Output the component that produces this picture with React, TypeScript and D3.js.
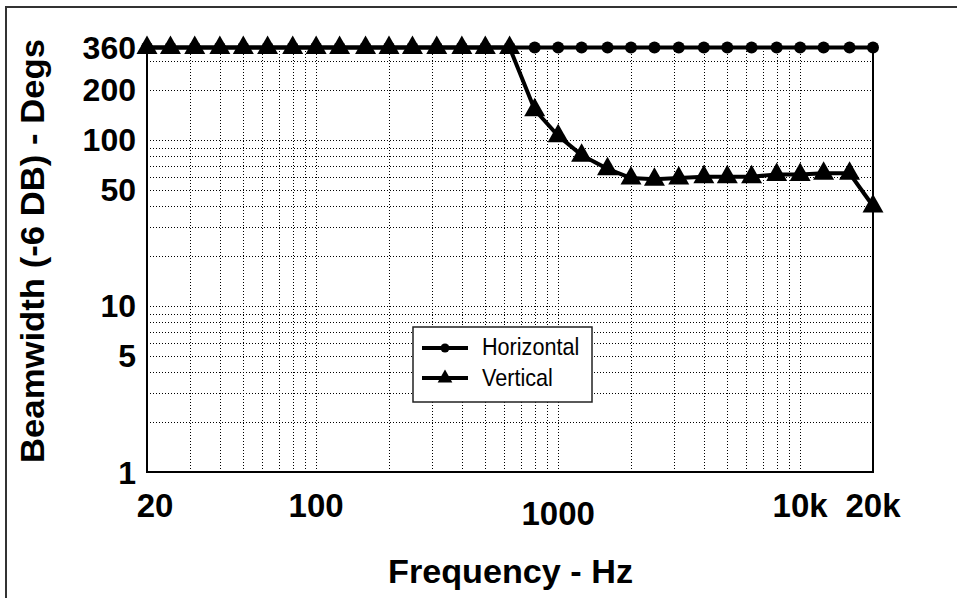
import React from "react";
import * as d3 from "d3";

const freqs = [20, 25, 31.5, 40, 50, 63, 80, 100, 125, 160, 200, 250, 315, 400, 500, 630, 800, 1000, 1250, 1600, 2000, 2500, 3150, 4000, 5000, 6300, 8000, 10000, 12500, 16000, 20000];
const horizontal = [360, 360, 360, 360, 360, 360, 360, 360, 360, 360, 360, 360, 360, 360, 360, 360, 360, 360, 360, 360, 360, 360, 360, 360, 360, 360, 360, 360, 360, 360, 360];
const vertical = [360, 360, 360, 360, 360, 360, 360, 360, 360, 360, 360, 360, 360, 360, 360, 360, 152, 106, 81, 67, 59, 58, 59, 60, 60, 60, 62, 62, 63, 63, 40];
const xTickValues = [20, 100, 1000, 10000, 20000];
const xTickLabels = ["20", "100", "1000", "10k", "20k"];
const yTickValues = [1, 5, 10, 50, 100, 200, 360];
const yTickLabels = ["1", "5", "10", "50", "100", "200", "360"];
const seriesNames = ["Horizontal", "Vertical"];

const W = 957;
const H = 598;
const left = 147;
const right = 873;
const top = 47.6;
const bottom = 472;
const FONT = "'Liberation Sans', Arial, Helvetica, sans-serif";

export default function App() {
  const x = d3.scaleLog().domain([20, 20000]).range([left, right]);
  const y = d3.scaleLog().domain([1, 360]).range([bottom, top]);
  const xGrid = x.ticks().filter((v) => v > 20 && v <= 10000);
  const yGrid = y.ticks().filter((v) => v > 1 && v < 360);
  const px = (v: number) => Math.round(v) + 0.5;

  const line = d3
    .line<number>()
    .x((_, i) => x(freqs[i]))
    .y((d) => y(d));

  const tri = (cx: number, cy: number, s = 1) =>
    `M${cx},${cy - 12 * s}L${cx + 10.5 * s},${cy + 6.5 * s}L${cx - 10.5 * s},${cy + 6.5 * s}Z`;

  return (
    <svg
      width={W}
      height={H}
      style={{ position: "absolute", left: 0, top: 0, background: "#fff" }}
    >
      <rect x={0} y={0} width={W} height={H} fill="#fff" />
      {/* outer frame */}
      <rect x={6} y={7} width={W + 20} height={H + 20} fill="none" stroke="#333" strokeWidth={2} />

      {/* grid */}
      <g stroke="#000" strokeWidth={1} strokeDasharray="1,2" shapeRendering="crispEdges">
        {xGrid.map((v) => (
          <line key={"gx" + v} x1={px(x(v))} x2={px(x(v))} y1={bottom} y2={top} />
        ))}
        {yGrid.map((v) => (
          <line key={"gy" + v} x1={left} x2={right} y1={px(y(v))} y2={px(y(v))} />
        ))}
      </g>

      {/* plot border */}
      <rect x={left} y={top} width={right - left} height={bottom - top} fill="none" stroke="#000" strokeWidth={2} />

      {/* Horizontal series */}
      <path d={line(horizontal) || ""} fill="none" stroke="#000" strokeWidth={4} />
      {horizontal.map((v, i) => (
        <circle key={"h" + i} cx={x(freqs[i])} cy={y(v)} r={6} fill="#000" />
      ))}

      {/* Vertical series */}
      <path d={line(vertical) || ""} fill="none" stroke="#000" strokeWidth={4} />
      {vertical.map((v, i) => (
        <path key={"v" + i} d={tri(x(freqs[i]), y(v))} fill="#000" />
      ))}

      {/* y tick labels */}
      {yTickValues.map((v, i) => (
        <text
          key={"yt" + v}
          x={136}
          y={y(v) + 11.5}
          textAnchor="end"
          fontFamily={FONT}
          fontWeight="bold"
          fontSize={32}
          fill="#000"
        >
          {yTickLabels[i]}
        </text>
      ))}

      {/* x tick labels */}
      {xTickValues.map((v, i) => (
        <text
          key={"xt" + v}
          x={x(v) + (i === 0 ? 8 : 0)}
          y={v === 1000 ? 525 : 517}
          textAnchor="middle"
          fontFamily={FONT}
          fontWeight="bold"
          fontSize={33}
          fill="#000"
        >
          {xTickLabels[i]}
        </text>
      ))}

      {/* axis titles */}
      <text
        x={(left + right) / 2 - 122}
        y={583}
        textLength={245}
        lengthAdjust="spacingAndGlyphs"
        fontFamily={FONT}
        fontWeight="bold"
        fontSize={33}
        fill="#000"
      >
        Frequency - Hz
      </text>
      <text
        transform="translate(44,463) rotate(-90)"
        x={0}
        y={0}
        textLength={424}
        lengthAdjust="spacingAndGlyphs"
        fontFamily={FONT}
        fontWeight="bold"
        fontSize={34}
        fill="#000"
      >
        Beamwidth (-6 DB) - Degs
      </text>

      {/* legend */}
      <g>
        <rect x={413} y={327} width={179} height={75} fill="#fff" stroke="#222" strokeWidth={1.5} />
        <line x1={422} x2={468} y1={348} y2={348} stroke="#000" strokeWidth={4} />
        <circle cx={445} cy={348} r={4.5} fill="#000" />
        <line x1={422} x2={468} y1={378} y2={378} stroke="#000" strokeWidth={4} />
        <path d={tri(445, 378, 0.7)} fill="#000" />
        {seriesNames.map((n, i) => (
          <text
            key={n}
            transform={`translate(482,${355 + i * 31}) scale(0.9,1)`}
            fontFamily={FONT}
            fontSize={24}
            fill="#000"
          >
            {n}
          </text>
        ))}
      </g>
    </svg>
  );
}
